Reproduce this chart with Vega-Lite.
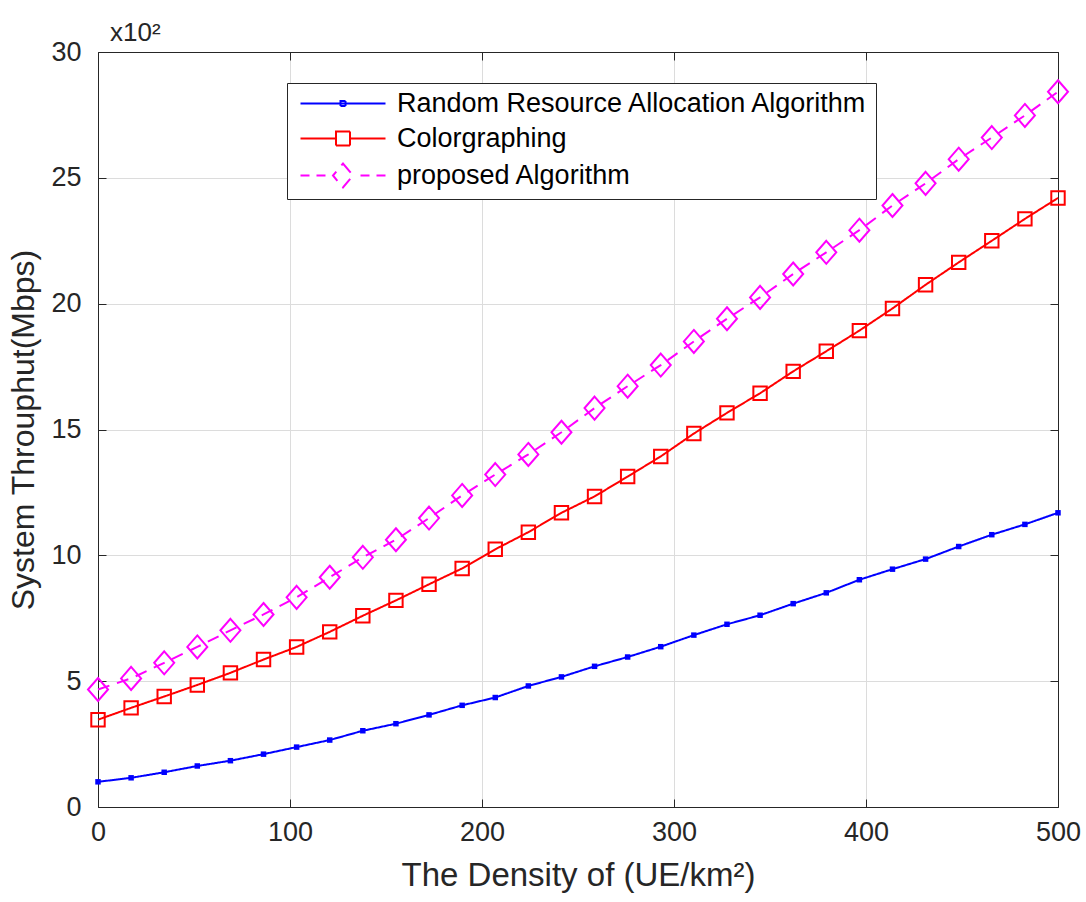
{
  "$schema": "https://vega.github.io/schema/vega-lite/v6.json",
  "width": 960,
  "height": 755,
  "autosize": "none",
  "padding": {"left": 98, "top": 52, "right": 28, "bottom": 95},
  "background": "white",
  "config": {"font": "Liberation Sans", "view": {"stroke": null}},
  "title": {"text": "x10²", "anchor": "start", "frame": "group", "dx": 12, "offset": -8, "fontSize": 26, "fontWeight": "normal", "color": "#262626", "font": "Liberation Sans"},
  "data": {"values": [
    {"algorithm": "Random Resource Allocation Algorithm", "density": 0, "throughput": 1.00},
    {"algorithm": "Random Resource Allocation Algorithm", "density": 17.24, "throughput": 1.16},
    {"algorithm": "Random Resource Allocation Algorithm", "density": 34.48, "throughput": 1.38},
    {"algorithm": "Random Resource Allocation Algorithm", "density": 51.72, "throughput": 1.63},
    {"algorithm": "Random Resource Allocation Algorithm", "density": 68.97, "throughput": 1.84},
    {"algorithm": "Random Resource Allocation Algorithm", "density": 86.21, "throughput": 2.10},
    {"algorithm": "Random Resource Allocation Algorithm", "density": 103.45, "throughput": 2.38},
    {"algorithm": "Random Resource Allocation Algorithm", "density": 120.69, "throughput": 2.66},
    {"algorithm": "Random Resource Allocation Algorithm", "density": 137.93, "throughput": 3.03},
    {"algorithm": "Random Resource Allocation Algorithm", "density": 155.17, "throughput": 3.31},
    {"algorithm": "Random Resource Allocation Algorithm", "density": 172.41, "throughput": 3.66},
    {"algorithm": "Random Resource Allocation Algorithm", "density": 189.66, "throughput": 4.04},
    {"algorithm": "Random Resource Allocation Algorithm", "density": 206.9, "throughput": 4.35},
    {"algorithm": "Random Resource Allocation Algorithm", "density": 224.14, "throughput": 4.81},
    {"algorithm": "Random Resource Allocation Algorithm", "density": 241.38, "throughput": 5.17},
    {"algorithm": "Random Resource Allocation Algorithm", "density": 258.62, "throughput": 5.59},
    {"algorithm": "Random Resource Allocation Algorithm", "density": 275.86, "throughput": 5.96},
    {"algorithm": "Random Resource Allocation Algorithm", "density": 293.1, "throughput": 6.37},
    {"algorithm": "Random Resource Allocation Algorithm", "density": 310.34, "throughput": 6.83},
    {"algorithm": "Random Resource Allocation Algorithm", "density": 327.59, "throughput": 7.26},
    {"algorithm": "Random Resource Allocation Algorithm", "density": 344.83, "throughput": 7.62},
    {"algorithm": "Random Resource Allocation Algorithm", "density": 362.07, "throughput": 8.08},
    {"algorithm": "Random Resource Allocation Algorithm", "density": 379.31, "throughput": 8.51},
    {"algorithm": "Random Resource Allocation Algorithm", "density": 396.55, "throughput": 9.03},
    {"algorithm": "Random Resource Allocation Algorithm", "density": 413.79, "throughput": 9.45},
    {"algorithm": "Random Resource Allocation Algorithm", "density": 431.03, "throughput": 9.85},
    {"algorithm": "Random Resource Allocation Algorithm", "density": 448.28, "throughput": 10.35},
    {"algorithm": "Random Resource Allocation Algorithm", "density": 465.52, "throughput": 10.82},
    {"algorithm": "Random Resource Allocation Algorithm", "density": 482.76, "throughput": 11.23},
    {"algorithm": "Random Resource Allocation Algorithm", "density": 500, "throughput": 11.69},
    {"algorithm": "Colorgraphing", "density": 0, "throughput": 3.47},
    {"algorithm": "Colorgraphing", "density": 17.24, "throughput": 3.94},
    {"algorithm": "Colorgraphing", "density": 34.48, "throughput": 4.39},
    {"algorithm": "Colorgraphing", "density": 51.72, "throughput": 4.85},
    {"algorithm": "Colorgraphing", "density": 68.97, "throughput": 5.33},
    {"algorithm": "Colorgraphing", "density": 86.21, "throughput": 5.86},
    {"algorithm": "Colorgraphing", "density": 103.45, "throughput": 6.36},
    {"algorithm": "Colorgraphing", "density": 120.69, "throughput": 6.96},
    {"algorithm": "Colorgraphing", "density": 137.93, "throughput": 7.60},
    {"algorithm": "Colorgraphing", "density": 155.17, "throughput": 8.21},
    {"algorithm": "Colorgraphing", "density": 172.41, "throughput": 8.85},
    {"algorithm": "Colorgraphing", "density": 189.66, "throughput": 9.48},
    {"algorithm": "Colorgraphing", "density": 206.9, "throughput": 10.24},
    {"algorithm": "Colorgraphing", "density": 224.14, "throughput": 10.92},
    {"algorithm": "Colorgraphing", "density": 241.38, "throughput": 11.69},
    {"algorithm": "Colorgraphing", "density": 258.62, "throughput": 12.34},
    {"algorithm": "Colorgraphing", "density": 275.86, "throughput": 13.13},
    {"algorithm": "Colorgraphing", "density": 293.1, "throughput": 13.93},
    {"algorithm": "Colorgraphing", "density": 310.34, "throughput": 14.84},
    {"algorithm": "Colorgraphing", "density": 327.59, "throughput": 15.66},
    {"algorithm": "Colorgraphing", "density": 344.83, "throughput": 16.44},
    {"algorithm": "Colorgraphing", "density": 362.07, "throughput": 17.31},
    {"algorithm": "Colorgraphing", "density": 379.31, "throughput": 18.11},
    {"algorithm": "Colorgraphing", "density": 396.55, "throughput": 18.93},
    {"algorithm": "Colorgraphing", "density": 413.79, "throughput": 19.81},
    {"algorithm": "Colorgraphing", "density": 431.03, "throughput": 20.75},
    {"algorithm": "Colorgraphing", "density": 448.28, "throughput": 21.64},
    {"algorithm": "Colorgraphing", "density": 465.52, "throughput": 22.50},
    {"algorithm": "Colorgraphing", "density": 482.76, "throughput": 23.37},
    {"algorithm": "Colorgraphing", "density": 500, "throughput": 24.20},
    {"algorithm": "proposed Algorithm", "density": 0, "throughput": 4.67},
    {"algorithm": "proposed Algorithm", "density": 17.24, "throughput": 5.11},
    {"algorithm": "proposed Algorithm", "density": 34.48, "throughput": 5.73},
    {"algorithm": "proposed Algorithm", "density": 51.72, "throughput": 6.36},
    {"algorithm": "proposed Algorithm", "density": 68.97, "throughput": 7.02},
    {"algorithm": "proposed Algorithm", "density": 86.21, "throughput": 7.65},
    {"algorithm": "proposed Algorithm", "density": 103.45, "throughput": 8.33},
    {"algorithm": "proposed Algorithm", "density": 120.69, "throughput": 9.13},
    {"algorithm": "proposed Algorithm", "density": 137.93, "throughput": 9.92},
    {"algorithm": "proposed Algorithm", "density": 155.17, "throughput": 10.62},
    {"algorithm": "proposed Algorithm", "density": 172.41, "throughput": 11.48},
    {"algorithm": "proposed Algorithm", "density": 189.66, "throughput": 12.38},
    {"algorithm": "proposed Algorithm", "density": 206.9, "throughput": 13.21},
    {"algorithm": "proposed Algorithm", "density": 224.14, "throughput": 14.01},
    {"algorithm": "proposed Algorithm", "density": 241.38, "throughput": 14.89},
    {"algorithm": "proposed Algorithm", "density": 258.62, "throughput": 15.85},
    {"algorithm": "proposed Algorithm", "density": 275.86, "throughput": 16.72},
    {"algorithm": "proposed Algorithm", "density": 293.1, "throughput": 17.56},
    {"algorithm": "proposed Algorithm", "density": 310.34, "throughput": 18.5},
    {"algorithm": "proposed Algorithm", "density": 327.59, "throughput": 19.4},
    {"algorithm": "proposed Algorithm", "density": 344.83, "throughput": 20.25},
    {"algorithm": "proposed Algorithm", "density": 362.07, "throughput": 21.18},
    {"algorithm": "proposed Algorithm", "density": 379.31, "throughput": 22.04},
    {"algorithm": "proposed Algorithm", "density": 396.55, "throughput": 22.92},
    {"algorithm": "proposed Algorithm", "density": 413.79, "throughput": 23.9},
    {"algorithm": "proposed Algorithm", "density": 431.03, "throughput": 24.78},
    {"algorithm": "proposed Algorithm", "density": 448.28, "throughput": 25.74},
    {"algorithm": "proposed Algorithm", "density": 465.52, "throughput": 26.6},
    {"algorithm": "proposed Algorithm", "density": 482.76, "throughput": 27.48},
    {"algorithm": "proposed Algorithm", "density": 500, "throughput": 28.42}
  ]},
  "resolve": {"axis": {"x": "independent", "y": "independent"}},
  "layer": [
    {
      "mark": {"type": "line", "strokeWidth": 2},
      "encoding": {
        "x": {"field": "density", "type": "quantitative", "scale": {"domain": [0, 500], "nice": false},
          "axis": {"title": "The Density of (UE/km²)", "values": [0, 100, 200, 300, 400, 500], "grid": true, "gridColor": "#dcdcdc", "domainColor": "#262626", "tickColor": "#262626", "tickSize": -8, "labelFlush": false, "labelFontSize": 27, "titleFontSize": 33, "titleFontWeight": "normal", "labelColor": "#262626", "titleColor": "#262626", "labelPadding": 20, "titlePadding": 14}},
        "y": {"field": "throughput", "type": "quantitative", "scale": {"domain": [0, 30], "nice": false},
          "axis": {"title": "System Throuphut(Mbps)", "values": [0, 5, 10, 15, 20, 25, 30], "grid": true, "gridColor": "#dcdcdc", "domainColor": "#262626", "tickColor": "#262626", "tickSize": -8, "labelFlush": false, "labelFontSize": 27, "titleFontSize": 32, "titleFontWeight": "normal", "labelColor": "#262626", "titleColor": "#262626", "labelPadding": 25, "titlePadding": 10}},
        "color": {"field": "algorithm", "type": "nominal",
          "scale": {"domain": ["Random Resource Allocation Algorithm", "Colorgraphing", "proposed Algorithm"], "range": ["#0000ff", "#ff0000", "#ff00ff"]},
          "legend": {"title": null, "orient": "none", "legendX": 189, "legendY": 31, "strokeColor": "#262626", "fillColor": "white", "padding": 7, "symbolSize": 400, "symbolStrokeWidth": 2, "labelFontSize": 27, "labelColor": "#000000", "labelOffset": 76, "labelLimit": 0, "rowPadding": 7, "labelFont": "Liberation Sans",
            "encode": {"symbols": {"update": {
              "shape": {"signal": "datum.value === 'Colorgraphing' ? 'M-0.7,0H2.85M4.25,0H7.8M2.85,-0.7H4.25V0.7H2.85Z' : datum.value === 'proposed Algorithm' ? 'M-0.7,0H0.2M0.9,0H1.8M3.55,-1.2L4.55,0L3.55,1.2L2.55,0ZM5.3,0H6.2M6.9,0H7.8' : 'M-0.7,0H7.8M3.3,-0.25H3.8V0.25H3.3Z'"},
              "fill": {"value": "transparent"},
              "strokeDash": {"value": []},
              "strokeWidth": {"value": 2}
            }}}}},
        "strokeDash": {"field": "algorithm", "type": "nominal",
          "scale": {"domain": ["Random Resource Allocation Algorithm", "Colorgraphing", "proposed Algorithm"], "range": [[1, 0], [1, 0], [12, 8]]},
          "legend": null}
      }
    },
    {
      "transform": [{"filter": "datum.algorithm === 'Random Resource Allocation Algorithm'"}],
      "mark": {"type": "point", "shape": "square", "filled": true, "size": 30, "color": "#0000ff", "opacity": 1},
      "encoding": {
        "x": {"field": "density", "type": "quantitative", "axis": null},
        "y": {"field": "throughput", "type": "quantitative", "axis": null}
      }
    },
    {
      "transform": [{"filter": "datum.algorithm === 'Colorgraphing'"}],
      "mark": {"type": "point", "shape": "square", "filled": false, "size": 180, "strokeWidth": 2, "color": "#ff0000", "opacity": 1},
      "encoding": {
        "x": {"field": "density", "type": "quantitative", "axis": null},
        "y": {"field": "throughput", "type": "quantitative", "axis": null}
      }
    },
    {
      "transform": [{"filter": "datum.algorithm === 'proposed Algorithm'"}],
      "mark": {"type": "point", "shape": "M0,-1.15L1,0L0,1.15L-1,0Z", "filled": false, "size": 400, "strokeWidth": 2, "color": "#ff00ff", "opacity": 1},
      "encoding": {
        "x": {"field": "density", "type": "quantitative",
          "axis": {"orient": "top", "title": null, "labels": false, "grid": false, "values": [0, 100, 200, 300, 400, 500], "domainColor": "#262626", "tickColor": "#262626", "tickSize": -8}},
        "y": {"field": "throughput", "type": "quantitative",
          "axis": {"orient": "right", "title": null, "labels": false, "grid": false, "values": [0, 5, 10, 15, 20, 25, 30], "domainColor": "#262626", "tickColor": "#262626", "tickSize": -8}}
      }
    }
  ]
}
